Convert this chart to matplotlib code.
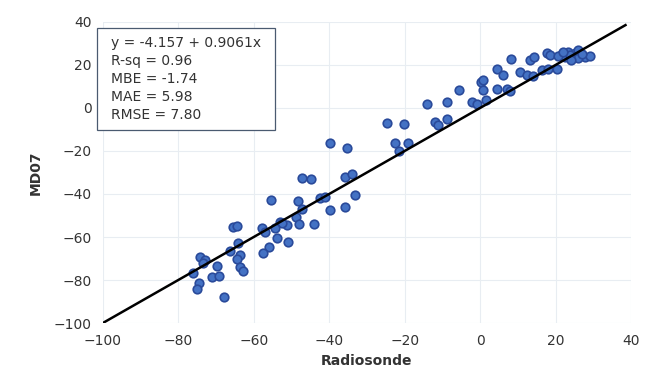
import numpy as np
import matplotlib.pyplot as plt
from matplotlib.patches import Rectangle

# values (Radiosonde vs MD07)
radiosonde = [
    -65.5, -64.5, -57.8, -53.1, -51.2, -53.8, -50.9, -64.2, -66.3, -56.0,
    -57.6, -63.7, -64.5, -74.3, -72.9, -73.5, -69.8, -76.1, -63.7, -62.9,
    -71.1, -69.2, -74.5, -75.1, -67.9,
    -39.8, -35.3, -47.2, -44.8, -35.8, -34.0, -55.4, -48.3, -42.4, -41.1,
    -33.2, -47.2, -39.8, -35.8, -48.8, -52.5, -57.0, -54.4, -48.0, -44.0,
    -24.7, -20.2, -22.5, -19.1, -21.5, -14.1, -8.8, -11.9, -11.1, -8.8,
    -5.6, -2.1, -0.8, 0.3, 0.8, 1.6,
    8.2, 13.3, 14.3, 17.8, 18.6, 21.8, 23.3, 25.2, 26.5, 27.9,
    24.4, 22.5, 29.2, 26.0, 4.5, 6.1, 10.6, 12.5, 14.1, 16.4,
    18.0, 20.4, 0.8, 4.5, 7.2, 8.0,
    20.5, 23.8, 25.8, 22.0, 24.0, 27.0,
]
md07 = [
    -55.3, -54.9, -55.8, -53.0, -54.4, -60.5, -62.3, -62.8, -66.5, -64.7,
    -67.4, -68.4, -70.2, -69.3, -70.7, -72.1, -73.5, -76.7, -74.0, -75.8,
    -78.6, -78.1, -81.4, -84.2, -87.9,
    -16.3, -18.6, -32.6, -33.0, -32.1, -30.7, -42.8, -43.3, -41.9, -41.4,
    -40.5, -47.0, -47.4, -46.0, -50.7, -53.5, -57.7, -55.8, -54.0, -54.0,
    -7.0, -7.4, -16.3, -16.3, -20.0, 1.9, 2.8, -6.5, -7.9, -5.1,
    8.4, 2.8, 1.9, 12.1, 8.4, 3.7,
    22.8, 22.3, 23.7, 25.6, 24.7, 25.1, 26.0, 25.6, 24.7, 23.7,
    23.3, 23.7, 24.2, 27.0, 18.1, 15.3, 16.7, 15.3, 14.9, 17.7,
    18.1, 18.1, 13.0, 8.8, 8.8, 7.9,
    24.0, 24.6, 23.0, 26.2, 22.4, 25.0,
]
line_x = [-100, 38.5]

stats = ["y = -4.157 + 0.9061x", "R-sq = 0.96", "MBE = -1.74",
         "MAE = 5.98", "RMSE = 7.80"]

fig = plt.figure(figsize=(6.5, 3.77), dpi=100)
ax = fig.add_axes([0.158, 0.143, 0.813, 0.799])

ax.scatter(radiosonde, md07, s=38, color='#4472C4', edgecolor='#2a4a9a',
           linewidth=1.2, zorder=3)
ax.plot(line_x, line_x, color='black', linewidth=1.8, zorder=4)

ax.set_xlim(-100, 40)
ax.set_ylim(-100, 40)
ax.set_xticks(np.arange(-100, 41, 20))
ax.set_yticks(np.arange(-100, 41, 20))
ax.grid(True, color='#e8edf2', linewidth=0.8)
ax.set_axisbelow(True)
for s in ax.spines.values():
    s.set_visible(False)
ax.tick_params(length=0, labelsize=10, labelcolor='#333333', pad=8)

ax.set_xlabel('Radiosonde', fontsize=10, fontweight='bold', color='#333333')
ax.set_ylabel('MD07', fontsize=10, fontweight='bold', color='#333333', labelpad=8)

# stats box
fig.patches.append(Rectangle((0.149, 0.655), 0.274, 0.271, transform=fig.transFigure,
                             facecolor='white', edgecolor='#4a5a70', linewidth=0.9,
                             zorder=5))
fig.text(0.171, 0.905, "\n".join(stats), fontsize=10, color='#333333',
         va='top', ha='left', linespacing=1.37, zorder=6)

fig.savefig('out.png', dpi=100)
